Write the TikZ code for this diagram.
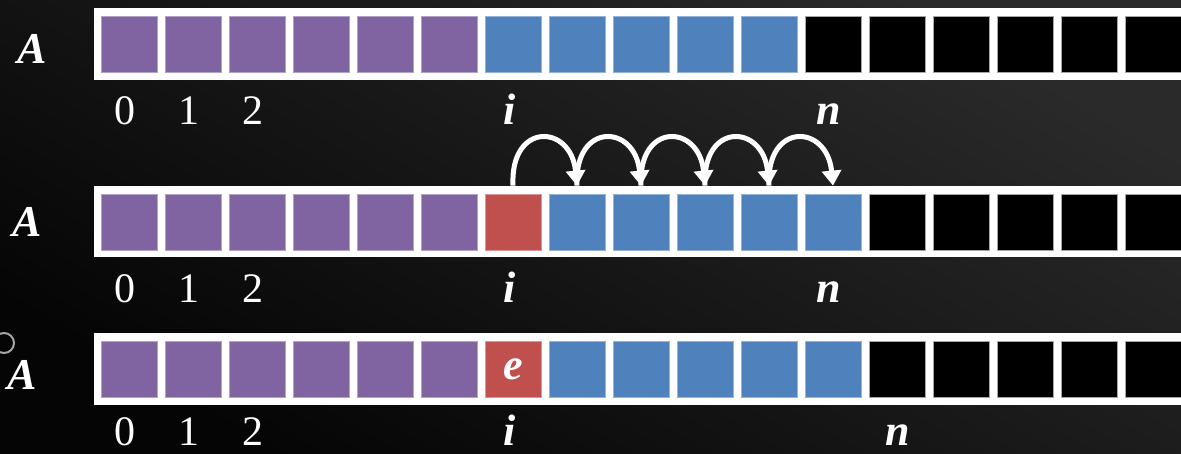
\documentclass[tikz,border=0pt]{standalone}
\usepackage{fontspec}
\setmainfont{Liberation Serif}
\usetikzlibrary{arrows.meta}
\definecolor{cpurple}{HTML}{8064A2}
\definecolor{cblue}{HTML}{4F81BD}
\definecolor{cred}{HTML}{C0504D}
\definecolor{bgdark}{HTML}{050505}
\definecolor{bglight}{HTML}{2A2A2A}
\begin{document}
\begin{tikzpicture}[x=1pt,y=-1pt,
  cell/.style={minimum size=56pt, inner sep=0pt, line width=0.8pt},
  pcell/.style={cell, fill=cpurple, draw=cpurple!60!white},
  bcell/.style={cell, fill=cblue, draw=cblue!60!white},
  rcell/.style={cell, fill=cred, draw=cred!60!white},
  kcell/.style={cell, fill=black, draw=gray!70},
  strip/.style={fill=white},
  lbl/.style={text=white, font=\fontsize{42}{50}\selectfont, anchor=base, inner sep=0pt},
  var/.style={lbl, font=\fontsize{44}{52}\selectfont\bfseries\itshape},
  hop/.style={draw=white, line width=5pt, -{Triangle[width=19pt,length=15pt]}}]
\useasboundingbox (0,0) rectangle (1181,453);
\shade[bottom color=bgdark, top color=bglight, shading angle=-30] (0,0) rectangle (1181,453);
\begin{scope}
\clip (0,0) rectangle (1181,453);
% strips
\fill[strip] (94,8) rectangle (1190,80);
\fill[strip] (94,186) rectangle (1190,257);
\fill[strip] (94,333) rectangle (1190,405);
% row 1
\foreach \k in {0,...,5} \node[pcell] (c1-\k) at (129+64*\k,44) {};
\foreach \k in {6,...,10} \node[bcell] (c1-\k) at (129+64*\k,44) {};
\foreach \k in {11,...,16} \node[kcell] (c1-\k) at (129+64*\k,44) {};
% row 2
\foreach \k in {0,...,5} \node[pcell] (c2-\k) at (129+64*\k,222) {};
\node[rcell] (c2-6) at (129+64*6,222) {};
\foreach \k in {7,...,11} \node[bcell] (c2-\k) at (129+64*\k,222) {};
\foreach \k in {12,...,16} \node[kcell] (c2-\k) at (129+64*\k,222) {};
% row 3
\foreach \k in {0,...,5} \node[pcell] (c3-\k) at (129+64*\k,369) {};
\node[rcell, text=white, font=\fontsize{44}{52}\selectfont\bfseries\itshape] (c3-6) at (129+64*6,369) {e};
\foreach \k in {7,...,11} \node[bcell] (c3-\k) at (129+64*\k,369) {};
\foreach \k in {12,...,16} \node[kcell] (c3-\k) at (129+64*\k,369) {};
\end{scope}
% labels row 1
\node[var] (a1) at (32,63) {A};
\node[lbl] (d10) at (125,124) {0};
\node[lbl] (d11) at (189,124) {1};
\node[lbl] (d12) at (253,124) {2};
\node[var] (i1) at (510,124) {i};
\node[var] (n1) at (829,124) {n};
% labels row 2
\node[var] (a2) at (27,236) {A};
\node[lbl] (d20) at (125,302) {0};
\node[lbl] (d21) at (189,302) {1};
\node[lbl] (d22) at (253,302) {2};
\node[var] (i2) at (510,302) {i};
\node[var] (n2) at (829,302) {n};
% labels row 3
\node[var] (a3) at (22,389) {A};
\node[lbl] (d30) at (125,445) {0};
\node[lbl] (d31) at (189,445) {1};
\node[lbl] (d32) at (253,445) {2};
\node[var] (i3) at (510,445) {i};
\node[var] (n3) at (898,445) {n};
% hops
\foreach \a/\b in {6/7,7/8,8/9,9/10,10/11}
  \draw[hop] ([yshift=8pt]c2-\a.north) .. controls +(-3,-64) and +(-6,-62) .. ([yshift=8pt]c2-\b.north);
% stray circle
\draw[gray!70, line width=2pt] (4,343) circle[radius=10pt];
\end{tikzpicture}
\end{document}
